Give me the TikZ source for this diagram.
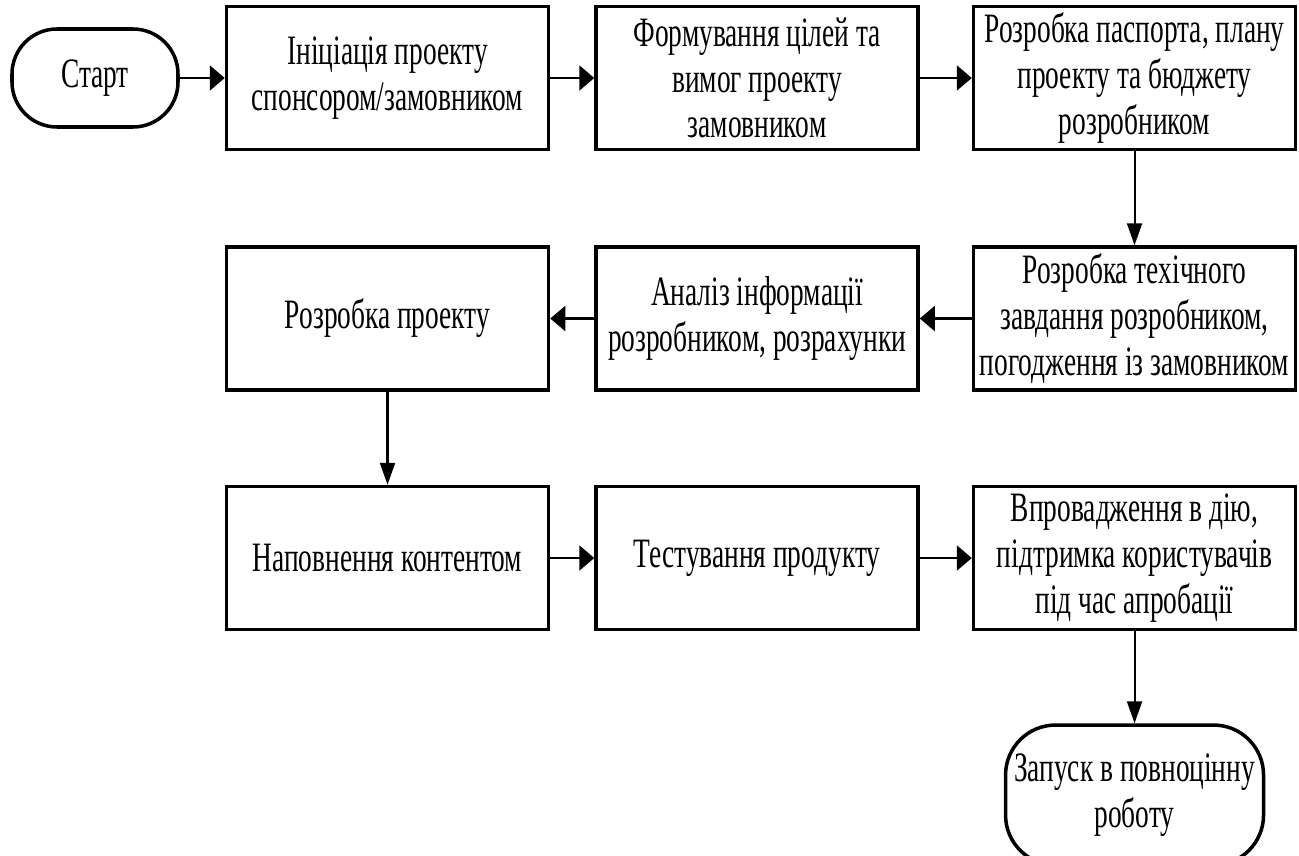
\documentclass[tikz,border=0pt]{standalone}
\usepackage{fontspec}
\setmainfont{Liberation Serif}[FakeStretch=0.655]
\usetikzlibrary{arrows.meta, positioning}

\begin{document}
\begin{tikzpicture}[
        font=\fontsize{23.8}{26}\selectfont,
        box/.style={draw, line width=2pt, minimum width=64.4mm, minimum height=28.6mm, align=center, inner sep=1pt},
        term/.style={draw, line width=2pt, align=center, inner sep=1pt},
        hflow/.style={-{Triangle[length=3mm, width=5mm]}, line width=1.2pt},
        vflow/.style={-{Triangle[length=4.4mm, width=3mm]}, line width=1.2pt},
        node distance=18.8mm and 9mm
        ]
        \useasboundingbox (0,0) rectangle (259.8mm,-171.2mm);
        % top row
        \node[term, rounded corners=9mm, minimum width=33.2mm, minimum height=19.6mm] (start) at (19mm,-15.6mm) {Старт};
        \node[box, right=9mm of start] (init) {Ініціація проекту\\спонсором/замовником};
        \node[box, right=8.8mm of init] (goals) {Формування цілей та\\вимог проекту\\замовником};
        \node[box, right=10.4mm of goals] (plan) {Розробка паспорта, плану\\проекту та бюджету\\розробником};
        \draw[hflow] (start) -- (init);
        \draw[hflow] (init) -- (goals);
        \draw[hflow] (goals) -- (plan);
        % middle row, right to left
        \node[box, below=of plan] (spec) {Розробка техічного\\завдання розробником,\\погодження із замовником};
        \node[box, left=10.4mm of spec] (analys) {Аналіз інформації\\розробником, розрахунки};
        \node[box, left=8.8mm of analys] (dev) {Розробка проекту};
        \draw[vflow] (plan) -- (spec);
        \draw[hflow] (spec) -- (analys);
        \draw[hflow] (analys) -- (dev);
        % bottom row
        \node[box, below=18.6mm of dev] (content) {Наповнення контентом};
        \node[box, right=8.8mm of content] (test) {Тестування продукту};
        \node[box, right=10.4mm of test] (deploy) {Впровадження в дію,\\підтримка користувачів\\під час апробації};
        \draw[vflow] (dev) -- (content);
        \draw[hflow] (content) -- (test);
        \draw[hflow] (test) -- (deploy);
        % finish
        \node[term, rounded corners=10mm, minimum width=51.6mm, minimum height=28mm, below=18.4mm of deploy] (launch) {Запуск в повноцінну\\роботу};
        \draw[vflow] (deploy) -- (launch);
    \end{tikzpicture}
\end{document}
